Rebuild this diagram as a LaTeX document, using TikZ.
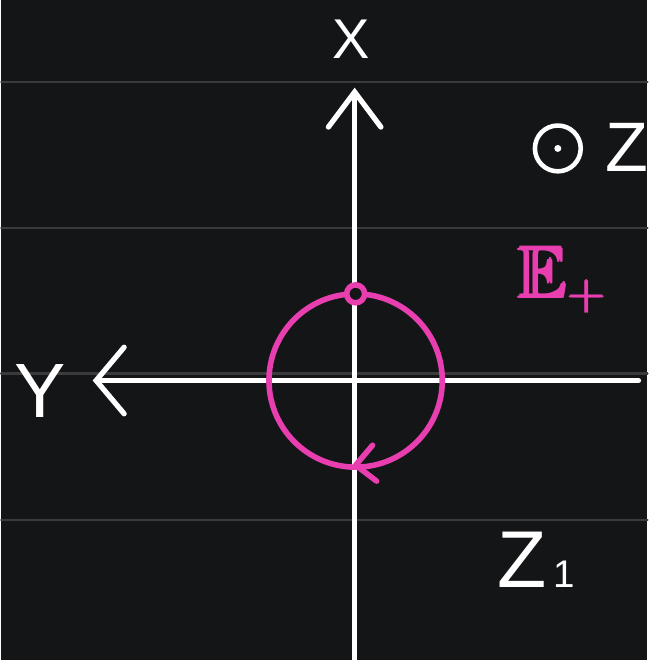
\documentclass[tikz,border=0pt]{standalone}
\usepackage{amsmath,amssymb}
\usepackage{fontspec}
\setmainfont{Liberation Sans}
\usetikzlibrary{arrows.meta}
\definecolor{board}{HTML}{131517}
\definecolor{rule}{HTML}{3A3B3D}
\definecolor{pen}{HTML}{E83EAF}
\begin{document}
\begin{tikzpicture}[x=0.01cm,y=-0.01cm,line join=round,line cap=round,
	axis/.style={white,line width=1.5pt},
	loop/.style={pen,line width=1.6pt},
	chalk/.style={white,inner sep=0pt}]
	\fill[board] (0,0) rectangle (649,663);
	\foreach \y in {82,229,375,522}
		\draw[rule,line width=0.6pt] (0,\y) -- (649,\y);
	% axes
	\coordinate (xtop) at (355,88);
	\coordinate (xbot) at (355,663);
	\coordinate (yleft) at (92,382);
	\coordinate (yright) at (640,382);
	\draw[axis,-{Straight Barb[length=10pt,width=15pt,line cap=round]}] (xbot) -- (xtop);
	\draw[axis,-{Straight Barb[length=8pt,width=19pt,line cap=round]}] (yright) -- (yleft);
	\node[chalk,font=\fontsize{16}{16}\selectfont] (xlab) at (352,39) {X};
	\node[chalk,font=\fontsize{22}{22}\selectfont] (ylab) at (39,393) {Y};
	% current loop
	\coordinate (o) at (356,382);
	\draw[loop] (o) circle[radius=87];
	\draw[loop,fill=board] (356,295) circle[radius=9];
	\draw[loop] (373,447) -- (356,467) -- (377,483);
	\node[pen,inner sep=0pt,anchor=base west,font=\fontsize{21}{21}\selectfont] (elab) at (520,300) {$\pmb{\mathbb{E}}_{\pmb{+}}$};
	% out of page
	\draw[white,line width=1.3pt] (559,149) circle[radius=23];
	\fill[white] (559,149) circle[radius=3.5];
	\node[chalk,font=\fontsize{20}{20}\selectfont] (zlab) at (628,148) {Z};
	\node[chalk,anchor=base west,font=\fontsize{23}{23}\selectfont] (zone) at (498,590) {Z\hspace{0.08em}{\fontsize{11}{11}\selectfont 1}};
\end{tikzpicture}
\end{document}
